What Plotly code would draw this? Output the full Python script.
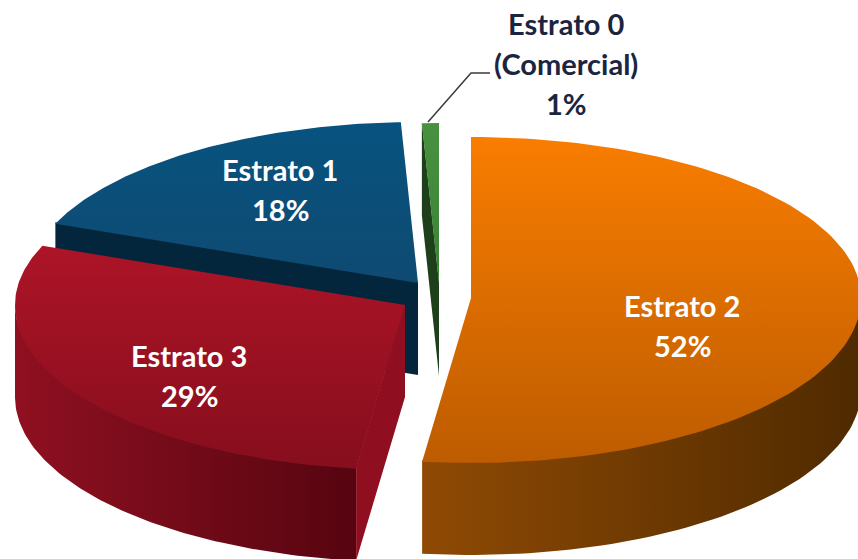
import numpy as np
import plotly.graph_objects as go

# clockwise from 12 o'clock, starting with the orange slice
names = ["Estrato 2", "Estrato 3", "Estrato 1", "Estrato 0"]
shares = [52.0, 29.0, 18.3, 0.7]

top_colors = [("#bd5c00", "#f97d00"), ("#860e1d", "#ad1427"), ("#0f4a72", "#07537f"), ("#3c8236", "#47913f")]
wall_colors = [("#8f4a04", "#4f2a00"), ("#8f1021", "#560510"), ("#03263d", "#03263d"), ("#20431c", "#20431c")]
cut_colors = ["#8f4a04", "#8f0f20", "#03263d", "#1d3f1a"]

# where each slice's point sits after the explosion
apex_x = [471, 405, 418, 439]
apex_y = [298, 305, 283, 284]
RX, RY_BACK, RY_FRONT, DEPTH = 390, 161, 165, 92

label_x = [682, 189, 280, 566]
label_y = [305, 355, 169, 23]
label_color = ["white", "white", "white", "#1b2540"]

fig = go.Figure()


def add_poly(xs, ys, c1, c2, kind):
    fig.add_trace(go.Scatter(
        x=xs, y=ys, mode="lines", fill="toself",
        line=dict(width=0), hoverinfo="skip", showlegend=False,
        fillgradient=dict(type=kind, colorscale=[[0, c1], [1, c2]]),
    ))


edges = np.radians(np.cumsum([0] + shares) * 3.6)
for i in [2, 3, 0, 1]:
    a, b = edges[i], edges[i + 1]
    ax, ay = apex_x[i], apex_y[i]
    t = np.linspace(a, b, 120)
    rim_x = ax + RX * np.sin(t)
    rim_y = ay - np.where(np.cos(t) > 0, RY_BACK, RY_FRONT) * np.cos(t)

    # outer wall, front half of the rim only
    # upper edges run 1.5px under the top face so no seam shows
    front = np.cos(t) <= 0.0
    if front.any():
        wx, wy = rim_x[front], rim_y[front]
        add_poly(
            np.r_[wx, wx[::-1]], np.r_[wy - 1.5, wy[::-1] + DEPTH],
            wall_colors[i][0], wall_colors[i][1], "horizontal",
        )

    # cut face, only if it looks toward the viewer
    if np.sin(a) < 0:
        sx, sy = rim_x[0], rim_y[0]
        add_poly(
            [sx, ax, ax, sx], [sy - 1.5, ay - 1.5, ay + DEPTH, sy + DEPTH],
            cut_colors[i], cut_colors[i], "horizontal",
        )

    add_poly(np.r_[ax, rim_x], np.r_[ay, rim_y], top_colors[i][0], top_colors[i][1], "vertical")

# leader line of the small slice
fig.add_trace(go.Scatter(
    x=[490, 471, 428], y=[73, 73, 122], mode="lines",
    line=dict(color="#3a3a3a", width=1.5), hoverinfo="skip", showlegend=False,
))


def add_text(x, y, text, color):
    fig.add_annotation(
        x=x, y=y, text=f"<b>{text}</b>", showarrow=False,
        font=dict(family="Lato", size=29, color=color),
        xanchor="center", yanchor="middle",
    )


for i, name in enumerate(names):
    pct = f"{round(shares[i])}%"
    if name == "Estrato 0":
        add_text(label_x[i], label_y[i], name, label_color[i])
        add_text(label_x[i], label_y[i] + 40, "(Comercial)", label_color[i])
        add_text(label_x[i], label_y[i] + 80, pct, label_color[i])
    else:
        add_text(label_x[i], label_y[i], name, label_color[i])
        add_text(label_x[i], label_y[i] + 40, pct, label_color[i])

fig.update_layout(
    width=858, height=559,
    margin=dict(l=0, r=0, t=0, b=0),
    paper_bgcolor="white", plot_bgcolor="white",
    xaxis=dict(range=[0, 858], visible=False),
    yaxis=dict(range=[559, 0], visible=False),
    showlegend=False,
)
# page margin would push the figure off by 8px
fig.write_html(
    "out.html",
    config={"displayModeBar": False},
    post_script="document.body.style.margin='0';document.body.style.overflow='hidden';",
)
